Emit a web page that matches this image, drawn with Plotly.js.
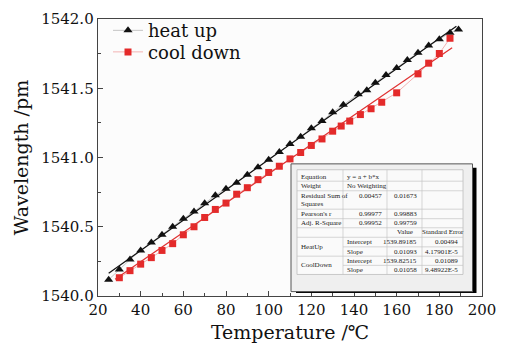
<!DOCTYPE html>
<html><head><meta charset="utf-8">
<script src="https://cdn.plot.ly/plotly-3.0.1.min.js"></script>
<style>html,body{margin:0;padding:0;background:#fff}#chart{width:510px;height:346px}</style>
</head><body><div id="chart"></div>
<script>
// ---- data ----
const heatT = [25,30,35,40,45,50,55,60,65,70,75,80,85,90,95,100,105,110,115,120,125,130,135,142,146,150,155,160,165,170,175,180,185,189];
const heatW = [1540.118,1540.192,1540.263,1540.329,1540.387,1540.442,1540.500,1540.558,1540.610,1540.670,1540.727,1540.775,1540.817,1540.875,1540.930,1540.984,1541.040,1541.097,1541.150,1541.211,1541.263,1541.326,1541.380,1541.456,1541.486,1541.540,1541.596,1541.646,1541.704,1541.756,1541.808,1541.854,1541.901,1541.925];
const coolT = [30,35,40,45,50,55,60,65,70,75,80,85,90,95,100,105,110,115,120,125,130,134,138,143,148,153,160,170,175,180,185];
const coolW = [1540.132,1540.183,1540.230,1540.277,1540.329,1540.378,1540.442,1540.500,1540.567,1540.625,1540.671,1540.735,1540.782,1540.840,1540.892,1540.937,1540.990,1541.036,1541.087,1541.134,1541.190,1541.227,1541.263,1541.310,1541.352,1541.399,1541.467,1541.604,1541.681,1541.751,1541.861];
// linear fit lines (end points)
const fitHeatT = [25, 188];
const fitHeatW = [1540.165, 1541.947];
const fitCoolT = [28, 186];
const fitCoolW = [1540.121, 1541.793];
const seriesNames = ["heat up", "cool down"];
// inset fit table
const tableRows = [
  ["Equation", "y = a + b*x", "", ""],
  ["Weight", "No Weighting", "", ""],
  ["Residual Sum of|Squares", "0.00457", "0.01673", ""],
  ["Pearson's r", "0.99977", "0.99883", ""],
  ["Adj. R-Square", "0.99952", "0.99759", ""],
  ["", "", "Value", "Standard Error"],
  ["HeatUp", "Intercept", "1539.89185", "0.00494"],
  ["", "Slope", "0.01093", "4.17901E-5"],
  ["CoolDown", "Intercept", "1539.82515", "0.01089"],
  ["", "Slope", "0.01058", "9.48922E-5"]
];

// ---- layout geometry (pixels) ----
const W = 510, H = 346;
const L = 98, R = 482, T = 13, B = 296;
const px = x => (x - L) / (R - L);
const py = y => (B - y) / (B - T);
const SERIF = "DejaVu Serif, serif";
const TFONT = "Liberation Serif, serif";

const traces = [
  {x: heatT, y: heatW, name: seriesNames[0], mode: "lines+markers", legend: "legend",
   line: {color: "#b8b8b8", width: 0.8},
   marker: {symbol: "triangle-up", size: 8, color: "#111"}},
  {x: coolT, y: coolW, name: seriesNames[1], mode: "lines+markers", legend: "legend2",
   line: {color: "#f0a0a0", width: 0.8},
   marker: {symbol: "square", size: 7, color: "#e42a2a"}},
  {x: fitHeatT, y: fitHeatW, mode: "lines", showlegend: false, hoverinfo: "skip",
   line: {color: "#111", width: 1.2}},
  {x: fitCoolT, y: fitCoolW, mode: "lines", showlegend: false, hoverinfo: "skip",
   line: {color: "#e03030", width: 1.2}}
];

// table geometry
const colX = [297, 343, 387, 422, 463];
const rowY = [167, 178.7, 188.5, 207.3, 217, 226.3, 236, 245.8, 255.3, 264.7, 274];
const lineY = [174, 183.3, 194.3, 212.3, 221.7, 231, 241, 250.7, 260, 269.3];

const shapes = [];
const annotations = [];
// shadow and panel
shapes.push({type: "rect", xref: "paper", yref: "paper", x0: px(296), x1: px(476.5), y0: py(165), y1: py(293),
  fillcolor: "#000", line: {width: 0}});
shapes.push({type: "rect", xref: "paper", yref: "paper", x0: px(291), x1: px(472.5), y0: py(161), y1: py(291.5),
  fillcolor: "#efefef", line: {color: "#555", width: 1}});
shapes.push({type: "rect", xref: "paper", yref: "paper", x0: px(colX[0]), x1: px(colX[4]), y0: py(rowY[0]), y1: py(rowY[10]),
  fillcolor: "#fafafa", line: {color: "#bdbdbd", width: 0.8}});
for (let i = 1; i < rowY.length - 1; i++) {
  const merged = (i === 7 || i === 9);
  shapes.push({type: "line", xref: "paper", yref: "paper",
    x0: px(merged ? colX[1] : colX[0]), x1: px(colX[4]), y0: py(rowY[i]), y1: py(rowY[i]),
    line: {color: "#c4c4c4", width: 0.7}});
}
for (let j = 1; j < colX.length - 1; j++) {
  shapes.push({type: "line", xref: "paper", yref: "paper",
    x0: px(colX[j]), x1: px(colX[j]), y0: py(rowY[0]), y1: py(rowY[10]),
    line: {color: "#c4c4c4", width: 0.7}});
}
function cell(text, x, y, anchor) {
  annotations.push({text: text, xref: "paper", yref: "paper", x: px(x), y: py(y),
    xanchor: anchor, yanchor: "middle", showarrow: false,
    font: {family: TFONT, size: 7, color: "#222"}});
}
tableRows.forEach((row, r) => {
  row.forEach((txt, c) => {
    if (!txt) return;
    let y = lineY[r];
    if (c === 0 && (txt === "HeatUp" || txt === "CoolDown")) y = (rowY[r] + rowY[r + 2]) / 2;
    if (txt.indexOf("|") >= 0) {
      txt.split("|").forEach((part, k) => cell(part, colX[c] + 2, y + k * 8, "left"));
      return;
    }
    const isNum = /^[0-9.E\-]+$/.test(txt);
    if (r === 5) { cell(txt, (colX[c] + colX[c + 1]) / 2, y, "center"); return; }
    if (isNum) cell(txt, colX[c + 1] - 3, y, "right");
    else cell(txt, colX[c] + 2, y, "left");
  });
});

const axisCommon = {
  showline: true, mirror: true, linecolor: "#444", linewidth: 1.3,
  ticks: "inside", ticklen: 5, tickwidth: 1, tickcolor: "#444",
  showgrid: false, zeroline: false,
  tickfont: {family: SERIF, size: 15, color: "#111"}
};
const legendCommon = {xanchor: "left", yanchor: "top", bgcolor: "rgba(0,0,0,0)", borderwidth: 0,
  font: {family: SERIF, size: 18, color: "#111"}};
const layout = {
  width: W, height: H,
  margin: {l: L, r: W - R, t: T, b: H - B, pad: 0},
  paper_bgcolor: "#fff", plot_bgcolor: "#fcfcfc",
  showlegend: true,
  legend: Object.assign({x: px(108), y: py(6)}, legendCommon),
  legend2: Object.assign({x: px(108), y: py(28)}, legendCommon),
  xaxis: Object.assign({}, axisCommon, {
    range: [20, 200], tick0: 20, dtick: 20,
    minor: {dtick: 10, ticks: "inside", ticklen: 3, tickcolor: "#444"},
    title: {text: "Temperature /℃", font: {family: SERIF, size: 19, color: "#111"}, standoff: 7}
  }),
  yaxis: Object.assign({}, axisCommon, {
    range: [1540, 1542], tick0: 1540, dtick: 0.5, tickformat: ".1f",
    minor: {dtick: 0.25, ticks: "inside", ticklen: 3, tickcolor: "#444"},
    title: {text: "Wavelength /pm", font: {family: SERIF, size: 19, color: "#111"}, standoff: 7}
  }),
  shapes: shapes,
  annotations: annotations
};
Plotly.newPlot("chart", traces, layout, {displayModeBar: false, staticPlot: true});
</script></body></html>
